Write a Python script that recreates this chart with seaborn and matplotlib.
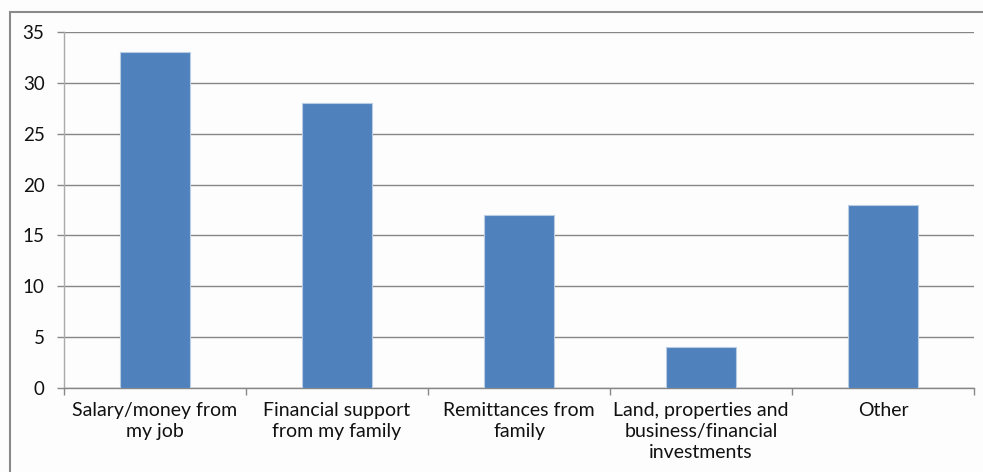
import matplotlib
matplotlib.use("Agg")
import matplotlib.pyplot as plt
import seaborn as sns
import pandas as pd
from matplotlib.patches import Rectangle

categories = ["Salary/money from\nmy job", "Financial support\nfrom my family",
              "Remittances from\nfamily", "Land, properties and\nbusiness/financial\ninvestments", "Other"]
values = [33, 28, 17, 4, 18]
yticks = [0, 5, 10, 15, 20, 25, 30, 35]

sns.set_theme(style="white")
plt.rcParams['font.family'] = ['Lato', 'DejaVu Sans']

W, H = 983, 472
fig = plt.figure(figsize=(W / 100, H / 100), dpi=100)
fig.patch.set_facecolor("#fdfdfd")
ax = fig.add_axes([64 / W, 1 - 388 / H, (974 - 64) / W, (388 - 32) / H])
ax.set_facecolor("#fdfdfd")

df = pd.DataFrame({"cat": categories, "val": values})
sns.barplot(data=df, x="cat", y="val", color="#4f81bd", saturation=1, width=0.39,
            edgecolor="#b9cde5", linewidth=0.8, ax=ax, zorder=3)

ax.set_ylim(0, 35)
ax.set_xlim(-0.5, len(categories) - 0.5)
ax.set_yticks(yticks)
ax.set_yticklabels([str(t) for t in yticks], fontsize=13.5, color="#111111")
ax.set_xticks(range(len(categories)))
ax.set_xticklabels(categories, fontsize=14, color="#111111", linespacing=1.3)
ax.set_xticks([i - 0.5 for i in range(len(categories) + 1)], minor=True)
ax.tick_params(axis="x", which="major", length=0, pad=10)
ax.tick_params(axis="x", which="minor", length=5, color="#888888", width=1, direction="out", bottom=True)
ax.tick_params(axis="y", which="major", length=5, color="#888888", width=1, direction="out", left=True, pad=9)
ax.set_xlabel("")
ax.set_ylabel("")
ax.yaxis.grid(True, color="#868686", linewidth=1)
ax.set_axisbelow(True)
for s in ["top", "right"]:
    ax.spines[s].set_visible(False)
ax.spines["left"].set_color("#aaaaaa")
ax.spines["bottom"].set_color("#868686")
ax.spines["left"].set_linewidth(1)
ax.spines["bottom"].set_linewidth(1)

fig.add_artist(Rectangle((9.5 / W, -0.1), 1.2, 1 - 11.5 / H + 0.1, transform=fig.transFigure,
                         fill=False, edgecolor="#8a8a8a", linewidth=1.5))

fig.savefig("out.png", dpi=100, facecolor=fig.get_facecolor())
